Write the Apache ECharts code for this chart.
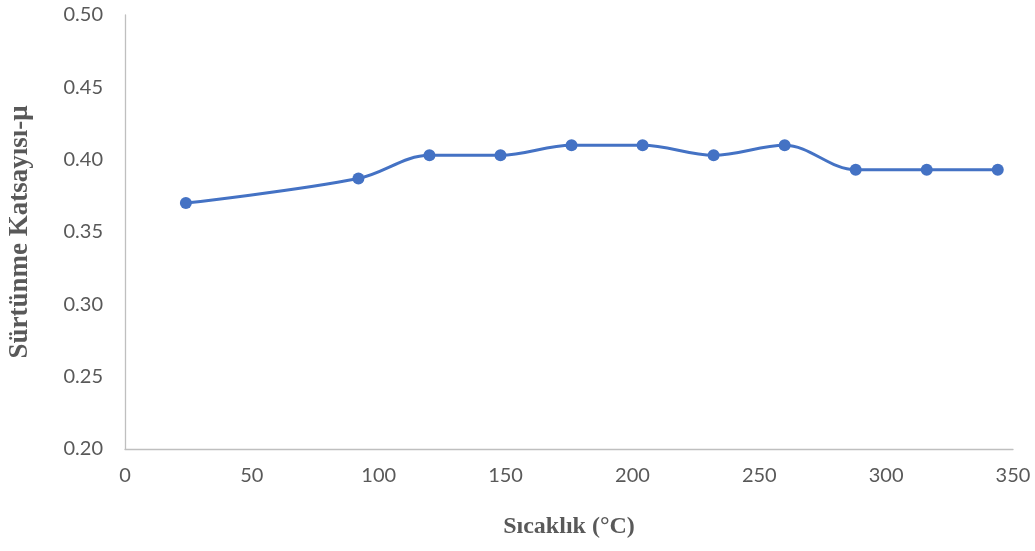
<!DOCTYPE html>
<html>
<head>
<meta charset="utf-8">
<script src="https://cdn.jsdelivr.net/npm/echarts@6/dist/echarts.min.js"></script>
<style>html,body{margin:0;padding:0;background:#fff;}#c{width:1035px;height:551px;}</style>
</head>
<body>
<div id="c"></div>
<script>
const temperatures = [24, 92, 120, 148, 176, 204, 232, 260, 288, 316, 344];
const frictionCoeff = [0.370, 0.387, 0.403, 0.403, 0.410, 0.410, 0.403, 0.410, 0.393, 0.393, 0.393];
const xTitle = 'Sıcaklık (°C)';
const yTitle = 'Sürtünme Katsayısı-μ';

const chart = echarts.init(document.getElementById('c'));
chart.setOption({
  animation: false,
  backgroundColor: '#fff',
  grid: { left: 125, right: 22, top: 15, bottom: 102, containLabel: false, outerBoundsMode: 'none' },
  xAxis: {
    type: 'value', min: 0, max: 350, interval: 50,
    name: xTitle, nameLocation: 'middle', nameGap: 66,
    nameTextStyle: { fontFamily: 'Liberation Serif', fontWeight: 'bold', fontSize: 24, color: '#595959' },
    axisLine: { show: true, lineStyle: { color: '#bfbfbf', width: 1.3 } },
    axisTick: { show: false },
    splitLine: { show: false },
    axisLabel: { margin: 17, fontFamily: 'Lato', fontSize: 20, color: '#595959' }
  },
  yAxis: {
    type: 'value', min: 0.2, max: 0.5, interval: 0.05,
    name: yTitle, nameLocation: 'middle', nameGap: 91,
    nameTextStyle: { fontFamily: 'Liberation Serif', fontWeight: 'bold', fontSize: 27, color: '#595959' },
    axisLine: { show: true, lineStyle: { color: '#bfbfbf', width: 1.3 } },
    axisTick: { show: false },
    splitLine: { show: false },
    axisLabel: { margin: 22, fontFamily: 'Lato', fontSize: 20, color: '#595959', formatter: v => v.toFixed(2) }
  },
  series: [{
    type: 'line',
    data: temperatures.map((t, i) => [t, frictionCoeff[i]]),
    smooth: 0.35,
    symbol: 'circle', symbolSize: 12,
    lineStyle: { color: '#4472C4', width: 3 },
    itemStyle: { color: '#4472C4' }
  }]
});
</script>
</body>
</html>
